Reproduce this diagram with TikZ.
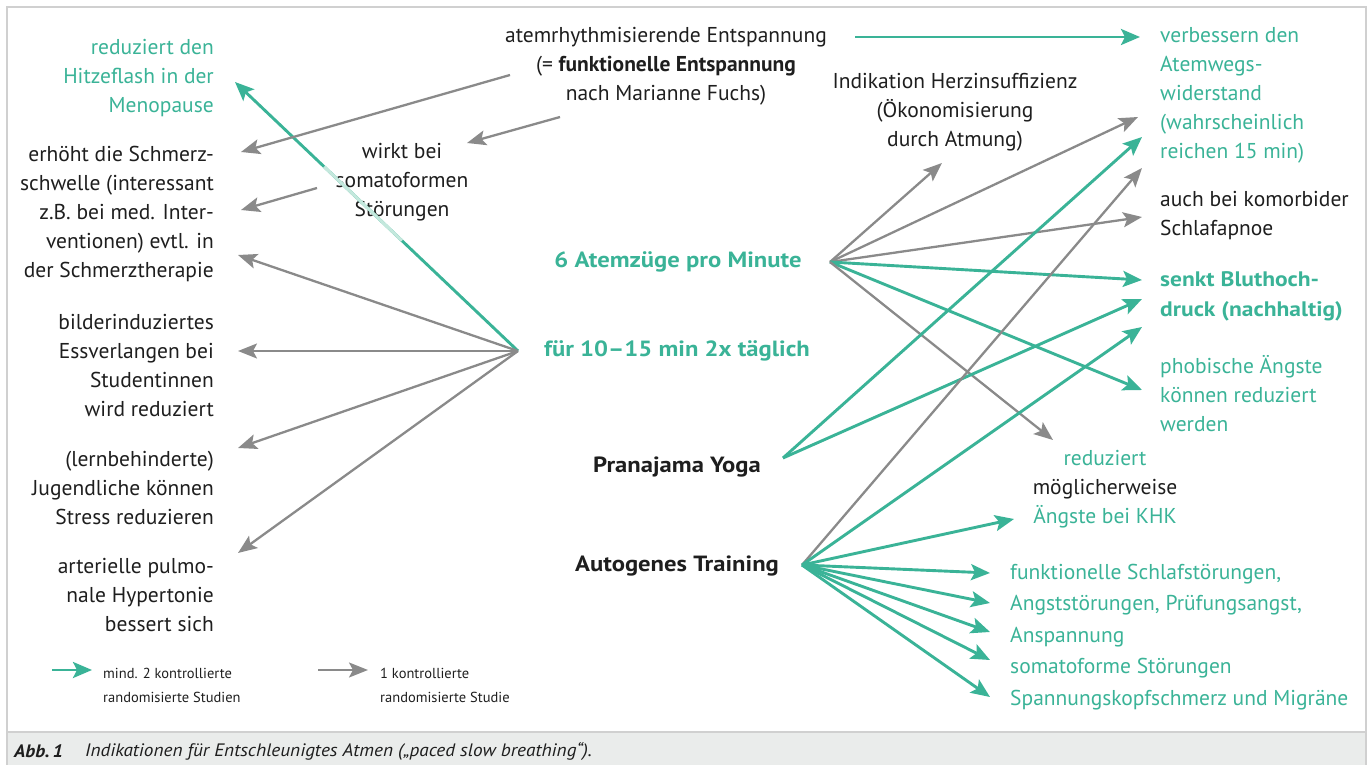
\documentclass[tikz,border=0pt]{standalone}
\usepackage{fontspec}
\setmainfont{PT Sans}
\newfontfamily\widefont{PT Sans}[FakeStretch=1.12]
\newfontfamily\capfont{PT Sans}[FakeStretch=1.07]
\usetikzlibrary{arrows.meta,calc}
\definecolor{teal1}{RGB}{58,179,151}
\definecolor{tealfade}{RGB}{196,232,221}
\definecolor{grey1}{RGB}{138,138,138}
\definecolor{txt}{RGB}{30,30,30}
\definecolor{framec}{RGB}{208,208,208}
\definecolor{capfill}{RGB}{234,236,235}
\begin{document}
\begin{tikzpicture}[x=1pt,y=-1pt,
  lbl/.style={inner sep=0pt, font=\fontsize{21.5}{29}\selectfont, text=txt},
  tlbl/.style={lbl, text=teal1},
  hublbl/.style={inner sep=0pt, font=\widefont\fontsize{22}{29}\selectfont\bfseries},
  leg/.style={inner sep=0pt, font=\fontsize{14.5}{24}\selectfont, text=txt, align=left, anchor=west},
  garr/.style={draw=grey1, line width=2.3pt, -{Stealth[length=19pt,width=15pt,inset=4pt]}},
  tarr/.style={draw=teal1, line width=2.9pt, -{Stealth[length=19pt,width=16pt,inset=4pt]}},
]
\useasboundingbox (0,0) rectangle (1369,765);
% frame and caption bar
\fill[capfill] (7,732) rectangle (1366,765);
\draw[framec, line width=1.5pt] (7,765) -- (7,7) -- (1366,7) -- (1366,765);
\draw[framec, line width=1.5pt] (7,732) -- (1366,732);
\node[inner sep=0pt, anchor=west, font=\capfont\fontsize{18}{20}\selectfont\bfseries\itshape, text=txt] (capa) at (14,751) {Abb.\,1};
\node[inner sep=0pt, anchor=west, font=\capfont\fontsize{18}{20}\selectfont\itshape, text=txt] (capb) at (85,751)
  {Indikationen für Entschleunigtes Atmen („paced slow breathing“).};

% left column
\node[tlbl, align=right, anchor=east] (hitze) at (214,78) {reduziert den\\Hitzeflash in der\\Menopause};
\node[lbl, align=right, anchor=east] (schmerz) at (214,214) {erhöht die Schmerz-\\schwelle (interessant\\z.B. bei med. Inter-\\ventionen) evtl. in\\der Schmerztherapie};
\node[lbl, align=right, anchor=east] (bilder) at (214,365.5) {bilderinduziertes\\Essverlangen bei\\Studentinnen\\wird reduziert};
\node[lbl, align=right, anchor=east] (jugend) at (214,488) {(lernbehinderte)\\Jugendliche können\\Stress reduzieren};
\node[lbl, align=right, anchor=east] (pulmo) at (214,595) {arterielle pulmo-\\nale Hypertonie\\bessert sich};

% centre
\node[lbl, align=center] (atem) at (666,66.5) {atemrhythmisierende Entspannung\\(= \textbf{funktionelle Entspannung}\\nach Marianne Fuchs)};
\node[lbl, align=center] (herz) at (955,112.5) {Indikation Herzinsuffizienz\\(Ökonomisierung\\durch Atmung)};
\node[hublbl, text=teal1] (sechs) at (678,262) {6 Atemzüge pro Minute};
\node[hublbl, text=teal1] (zehn) at (677,351) {für 10–15 min 2x täglich};
\node[hublbl, text=txt] (prana) at (677,467) {Pranajama Yoga};
\node[hublbl, text=txt] (auto) at (677,566) {Autogenes Training};

% right column
\node[tlbl, align=left, anchor=west] (verb) at (1160,95.5) {verbessern den\\Atemwegs-\\widerstand\\(wahrscheinlich\\reichen 15 min)};
\node[lbl, align=left, anchor=west] (apnoe) at (1160,215.5) {auch bei komorbider\\Schlafapnoe};
\node[tlbl, align=left, anchor=west, font=\widefont\fontsize{21}{30}\selectfont\bfseries] (blut) at (1160,296) {senkt Bluthoch-\\druck (nachhaltig)};
\node[tlbl, align=left, anchor=west] (phob) at (1160,393.5) {phobische Ängste\\können reduziert\\werden};
\node[lbl, align=center] (khk) at (1105,489) {\textcolor{teal1}{reduziert}\\möglicherweise\\\textcolor{teal1}{Ängste bei KHK}};
\node[tlbl, align=left, anchor=west, font=\fontsize{21.5}{31.5}\selectfont] (liste) at (1010,637) {funktionelle Schlafstörungen,\\Angststörungen, Prüfungsangst,\\Anspannung\\somatoforme Störungen\\Spannungskopfschmerz und Migräne};

% hub coordinates
\coordinate (hA) at (518,351);
\coordinate (hB) at (830,262);
\coordinate (hC) at (783,458);
\coordinate (hD) at (802,565);
\coordinate (atemL1) at (510,75);
\coordinate (atemL2) at (560,117);
\coordinate (atemR) at (855,37);
\coordinate (wirkL) at (317,188);

% target coordinates
\coordinate (tHitze) at (235,82);
\coordinate (tSchmerz1) at (241,152);
\coordinate (tSchmerz2) at (241,210);
\coordinate (tSchmerz3) at (238,255);
\coordinate (tBilder) at (238,351);
\coordinate (tJugend) at (238,448);
\coordinate (tPulmo) at (238,553);
\coordinate (tWirk) at (467,143);
\coordinate (tVerb0) at (1140,37);
\coordinate (tVerb1) at (1138,117);
\coordinate (tVerb2) at (1142,137);
\coordinate (tVerb3) at (1142,168);
\coordinate (tHerz) at (942,163);
\coordinate (tApnoe) at (1142,217);
\coordinate (tBlut1) at (1142,280);
\coordinate (tBlut2) at (1142,299);
\coordinate (tBlut3) at (1142,327);
\coordinate (tPhob) at (1142,390);
\coordinate (tKhk1) at (1053,440);
\coordinate (tKhk2) at (1014,519);
\coordinate (tL1) at (990,573);
\coordinate (tL2) at (990,603);
\coordinate (tL3) at (990,632);
\coordinate (tL4) at (990,660);
\coordinate (tL5) at (990,697);

\node[lbl, align=center] (wirk) at (402,182.5) {wirkt bei\\somatoformen\\Störungen};

% arrows from hub A (für 10-15 min)
\draw[tarr] (hA) -- (tHitze);
\draw[tealfade, line width=3pt] ($(hA)!0.41!(tHitze)$) -- ($(hA)!0.685!(tHitze)$);
\draw[garr] (hA) -- (tSchmerz3);
\draw[garr] (hA) -- (tBilder);
\draw[garr] (hA) -- (tJugend);
\draw[garr] (hA) -- (tPulmo);

% from atemrhythmisierende Entspannung
\draw[garr] (atemL1) -- (tSchmerz1);
\draw[garr] (atemL2) -- (tWirk);
\draw[garr] (wirkL) -- (tSchmerz2);
\draw[tarr] (atemR) -- (tVerb0);

% hub B (6 Atemzüge)
\draw[garr] (hB) -- (tHerz);
\draw[garr] (hB) -- (tVerb1);
\draw[garr] (hB) -- (tApnoe);
\draw[tarr] (hB) -- (tBlut1);
\draw[tarr] (hB) -- (tPhob);
\draw[garr] (hB) -- (tKhk1);

% hub C (Pranajama)
\draw[tarr] (hC) -- (tVerb2);
\draw[tarr] (hC) -- (tBlut2);

% hub D (Autogenes Training)
\draw[garr] (hD) -- (tVerb3);
\draw[tarr] (hD) -- (tBlut3);
\draw[tarr] (hD) -- (tKhk2);
\draw[tarr] (hD) -- (tL1);
\draw[tarr] (hD) -- (tL2);
\draw[tarr] (hD) -- (tL3);
\draw[tarr] (hD) -- (tL4);
\draw[tarr] (hD) -- (tL5);

% legend
\coordinate (lg1a) at (52,670);
\coordinate (lg1b) at (92,670);
\coordinate (lg2a) at (318,670);
\coordinate (lg2b) at (368,670);
\draw[tarr] (lg1a) -- (lg1b);
\draw[garr] (lg2a) -- (lg2b);
\node[leg] (leg1) at (103,685) {mind. 2 kontrollierte\\randomisierte Studien};
\node[leg] (leg2) at (380,685) {1 kontrollierte\\randomisierte Studie};
\end{tikzpicture}
\end{document}
